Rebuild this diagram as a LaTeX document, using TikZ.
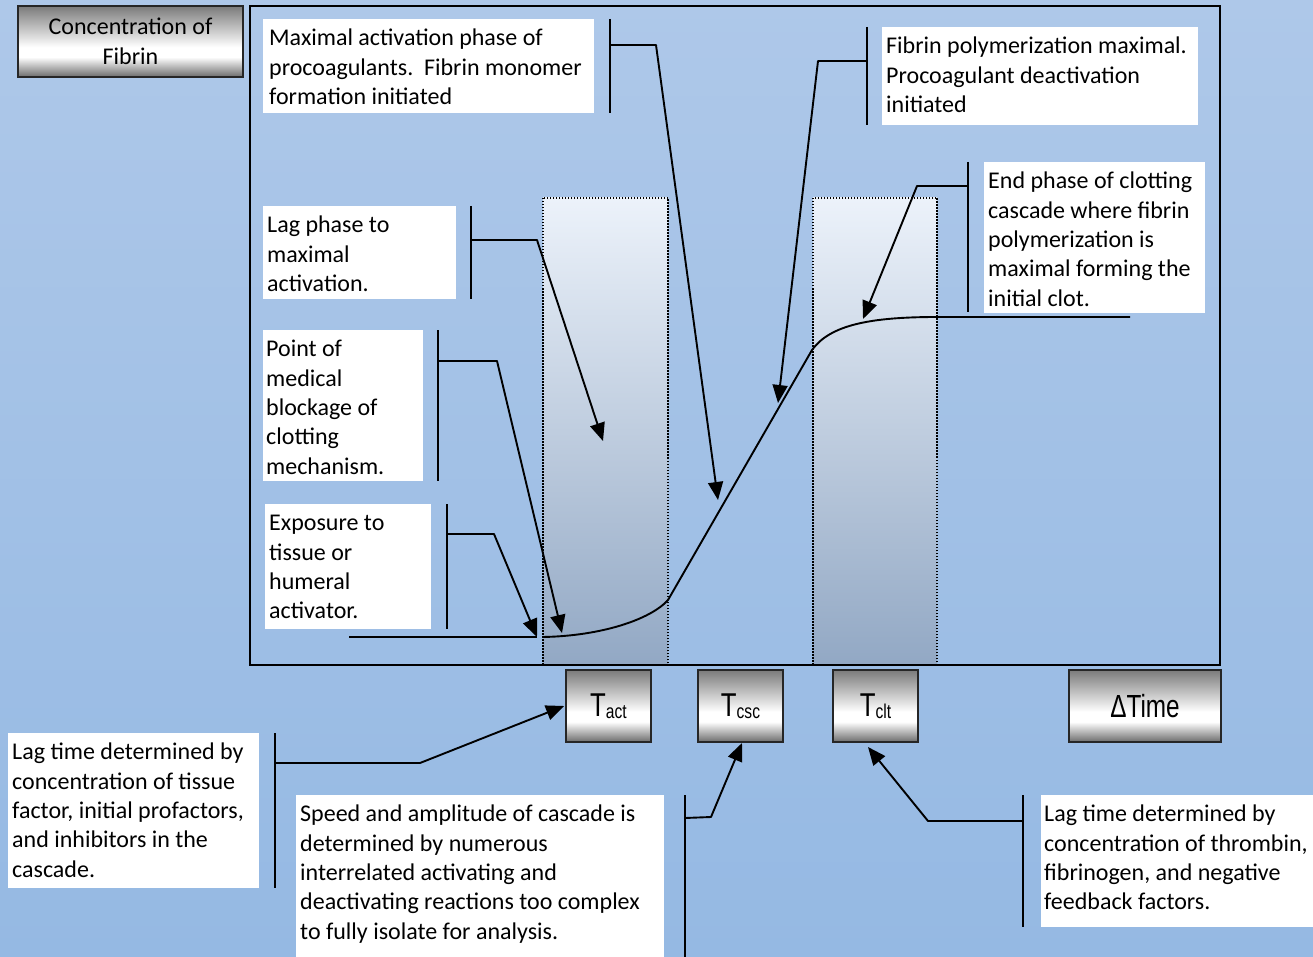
\documentclass[tikz,border=0pt]{standalone}
\usepackage{fontspec}
\setmainfont{Carlito}
\newfontfamily\arialf{Liberation Sans}
\usepackage{graphicx}
\usetikzlibrary{arrows.meta}
\pgfdeclareverticalshading{btnshade}{100bp}{color(0bp)=(black!58); color(25bp)=(black!58); color(39bp)=(white); color(46bp)=(white); color(75bp)=(black!52); color(100bp)=(black!52)}
\definecolor{bgtop}{RGB}{174,200,233}
\definecolor{bgbot}{RGB}{149,185,227}
\definecolor{phtop}{RGB}{236,242,250}
\definecolor{phbot}{RGB}{146,168,196}
\newcommand\tbx[4]{\parbox[t][#2][t]{#1}{\raggedright\leftskip=#3\fontsize{24}{29.4}\selectfont\rule{0pt}{26.5pt}#4}}
\newcommand\Tlab[1]{{\arialf\scalebox{0.78}[1]{\fontsize{33}{33}\selectfont T\raisebox{-1.5pt}{\fontsize{20}{20}\selectfont #1}}}}
\begin{document}
\begin{tikzpicture}[x=1pt,y=-1pt,
  ln/.style={line width=1.9pt,line join=round},
  arr/.style={line width=1.9pt,line join=round,-{Triangle[length=18pt,width=15pt]}},
  tb/.style={fill=white,inner sep=0pt,anchor=north west},
  btn/.style={draw=black!85,line width=1.9pt,shading=btnshade,inner sep=0pt},
  phase/.style={top color=phtop,bottom color=phbot,draw=black,line width=1.8pt,dash pattern=on 1.5pt off 1.5pt}]
\useasboundingbox (0,0) rectangle (1313,957);
\fill[top color=bgtop,bottom color=bgbot] (0,0) rectangle (1313,957);
% phase regions
\draw[phase] (543,198) rectangle (668,665);
\draw[phase] (813,198) rectangle (937,665);
% frame
\draw[line width=1.9pt] (250,6) rectangle (1220,665);
% fibrin curve
\draw[ln] (349,637) -- (537,637);
\draw[ln] (543,637) .. controls (600,636) and (650,620) .. (668,600) -- (812,350) .. controls (830,325) and (870,317) .. (937,317) -- (1130,317);
% buttons
\node[btn,minimum width=225pt,minimum height=71pt,align=center,font=\fontsize{24}{30}\selectfont] (conc) at (130.5,41.5) {Concentration of\\Fibrin};
\node[btn,minimum width=85pt,minimum height=72pt] (tact) at (608.5,706) {\Tlab{act}};
\node[btn,minimum width=85pt,minimum height=72pt] (tcsc) at (740.5,706) {\Tlab{csc}};
\node[btn,minimum width=85pt,minimum height=72pt] (tclt) at (875.5,706) {\Tlab{clt}};
\node[btn,minimum width=152pt,minimum height=72pt] (dtime) at (1145,706) {{\arialf\scalebox{0.76}[1]{\fontsize{32}{32}\selectfont ΔTime}}};
% text boxes
\node[tb] (n1) at (263,19) {\tbx{331pt}{94pt}{6pt}{Maximal activation phase of\\procoagulants.\ \ Fibrin monomer\\formation initiated}};
\node[tb] (n2) at (882,27) {\tbx{316pt}{98pt}{4pt}{Fibrin polymerization maximal.\\Procoagulant deactivation\\initiated}};
\node[tb] (n3) at (263,206) {\tbx{193pt}{93pt}{4pt}{Lag phase to\\maximal\\activation.}};
\node[tb] (n4) at (984,162) {\tbx{221pt}{151pt}{4pt}{End phase of clotting\\cascade where fibrin\\polymerization is\\maximal forming the\\initial clot.}};
\node[tb] (n5) at (263,330) {\tbx{160pt}{151pt}{3pt}{Point of\\medical\\blockage of\\clotting\\mechanism.}};
\node[tb] (n6) at (265,504) {\tbx{166pt}{125pt}{4pt}{Exposure to\\tissue or\\humeral\\activator.}};
\node[tb] (n7) at (8,733) {\tbx{251pt}{155pt}{4pt}{Lag time determined by\\concentration of tissue\\factor, initial profactors,\\and inhibitors in the\\cascade.}};
\node[tb] (n8) at (296,795) {\tbx{368pt}{162pt}{4pt}{Speed and amplitude of cascade is\\determined by numerous\\interrelated activating and\\deactivating reactions too complex\\to fully isolate for analysis.}};
\node[tb] (n9) at (1041,795) {\tbx{272pt}{132pt}{3pt}{Lag time determined by\\concentration of thrombin,\\fibrinogen, and negative\\feedback factors.}};
% callout coordinates
\coordinate (a1) at (610,19);  \coordinate (b1) at (610,113); \coordinate (c1) at (610,45);  \coordinate (d1) at (656,45);  \coordinate (p1) at (718,500);
\coordinate (a2) at (867,27);  \coordinate (b2) at (867,125); \coordinate (c2) at (867,61);  \coordinate (d2) at (818,61);  \coordinate (p2) at (778,403);
\coordinate (a3) at (471,206); \coordinate (b3) at (471,299); \coordinate (c3) at (471,240); \coordinate (d3) at (537,240); \coordinate (p3) at (603,441);
\coordinate (a4) at (968,162); \coordinate (b4) at (968,312); \coordinate (c4) at (968,186); \coordinate (d4) at (917,186); \coordinate (p4) at (863,319);
\coordinate (a5) at (438,330); \coordinate (b5) at (438,481); \coordinate (c5) at (438,361); \coordinate (d5) at (497,361); \coordinate (p5) at (562,633);
\coordinate (a6) at (447,504); \coordinate (b6) at (447,629); \coordinate (c6) at (447,534); \coordinate (d6) at (494,534); \coordinate (p6) at (537,637);
\coordinate (a7) at (275,733); \coordinate (b7) at (275,888); \coordinate (c7) at (275,763); \coordinate (d7) at (420,763);
\coordinate (a8) at (685,795); \coordinate (b8) at (685,957); \coordinate (c8) at (685,818); \coordinate (d8) at (711,817); \coordinate (p8) at (742,743);
\coordinate (a9) at (1023,795); \coordinate (b9) at (1023,927); \coordinate (c9) at (1023,821); \coordinate (d9) at (928,821); \coordinate (p9) at (868,747);
% callouts
\foreach \i in {1,...,9} {\draw[ln] (a\i) -- (b\i);}
\draw[arr] (c1) -- (d1) -- (p1);
\draw[arr] (c2) -- (d2) -- (p2);
\draw[arr] (c3) -- (d3) -- (p3);
\draw[arr] (c4) -- (d4) -- (p4);
\draw[arr] (c5) -- (d5) -- (p5);
\draw[arr] (c6) -- (d6) -- (p6);
\draw[arr] (c7) -- (d7) -- ([xshift=-1pt]tact.west);
\draw[arr] (c8) -- (d8) -- (p8);
\draw[arr] (c9) -- (d9) -- (p9);
\end{tikzpicture}
\end{document}
